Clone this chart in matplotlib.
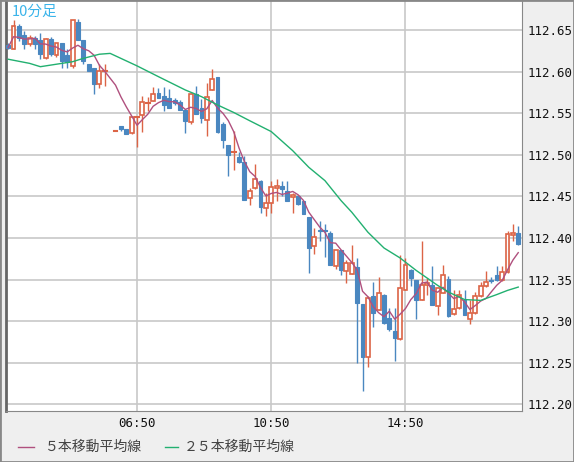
import numpy as np
import matplotlib
matplotlib.use("Agg")
import matplotlib.pyplot as plt
from matplotlib.patches import Rectangle
from matplotlib.lines import Line2D

idx = list(range(0, 19)) + list(range(20, 96))
opens = [112.632,112.627,112.655,112.644,112.633,112.640,112.638,112.616,112.639,112.620,112.634,112.620,112.607,112.660,112.638,112.609,112.604,112.585,112.601,
 112.529,112.535,112.531,112.526,112.545,112.548,112.562,112.565,112.574,112.571,112.568,112.566,112.564,112.554,112.540,112.573,112.556,112.542,112.578,112.594,112.537,
 112.512,112.503,112.498,112.492,112.448,112.460,112.468,112.436,112.442,112.460,112.462,112.457,112.449,112.451,112.445,
 112.425,112.390,112.410,112.409,112.406,112.366,112.385,112.360,112.357,112.365,112.321,112.257,112.330,112.314,112.331,112.304,112.288,112.278,112.338,112.362,
 112.349,112.326,112.344,112.344,112.318,112.334,112.351,112.309,112.316,112.326,112.303,112.310,112.330,112.342,112.350,112.356,112.349,112.359,112.404,112.406]
highs = [112.634,112.662,112.657,112.649,112.644,112.643,112.646,112.640,112.642,112.634,112.634,112.627,112.662,112.663,112.638,112.609,112.604,112.609,112.609,
 112.530,112.535,112.531,112.546,112.547,112.571,112.570,112.582,112.580,112.582,112.579,112.568,112.566,112.555,112.574,112.583,112.567,112.586,112.603,112.594,112.540,
 112.512,112.529,112.504,112.499,112.460,112.489,112.470,112.454,112.469,112.471,112.469,112.469,112.454,112.452,112.445,
 112.425,112.412,112.421,112.417,112.409,112.385,112.385,112.373,112.392,112.376,112.321,112.330,112.347,112.353,112.333,112.316,112.316,112.379,112.376,112.363,
 112.350,112.397,112.352,112.366,112.341,112.368,112.354,112.337,112.337,112.337,112.325,112.335,112.347,112.360,112.353,112.366,112.366,112.408,112.417,112.415]
lows = [112.627,112.627,112.637,112.627,112.631,112.627,112.615,112.615,112.619,112.618,112.604,112.604,112.604,112.638,112.609,112.601,112.573,112.580,112.583,
 112.529,112.529,112.525,112.525,112.510,112.528,112.553,112.565,112.568,112.553,112.556,112.560,112.554,112.526,112.537,112.549,112.538,112.523,112.578,112.526,112.508,
 112.475,112.482,112.490,112.446,112.440,112.459,112.430,112.427,112.430,112.445,112.450,112.445,112.430,112.440,112.429,
 112.358,112.381,112.397,112.377,112.367,112.363,112.355,112.346,112.357,112.250,112.216,112.245,112.293,112.314,112.297,112.288,112.252,112.277,112.337,112.342,
 112.303,112.325,112.331,112.319,112.307,112.334,112.305,112.308,112.315,112.307,112.297,112.309,112.329,112.341,112.346,112.348,112.348,112.358,112.396,112.392]
closes = [112.629,112.655,112.640,112.633,112.640,112.633,112.621,112.639,112.621,112.634,112.613,112.612,112.662,112.638,112.613,112.601,112.585,112.601,112.602,
 112.530,112.531,112.525,112.546,112.546,112.564,112.563,112.573,112.568,112.560,112.556,112.562,112.554,112.541,112.573,112.549,112.544,112.570,112.591,112.527,112.518,
 112.500,112.504,112.492,112.446,112.457,112.471,112.437,112.442,112.461,112.463,112.459,112.445,112.452,112.441,112.429,
 112.388,112.401,112.408,112.408,112.367,112.385,112.361,112.370,112.370,112.322,112.257,112.328,112.310,112.334,112.298,112.290,112.280,112.340,112.368,112.352,
 112.326,112.343,112.346,112.319,112.340,112.356,112.306,112.315,112.331,112.308,112.310,112.330,112.342,112.347,112.348,112.349,112.359,112.405,112.406,112.393]

ma25_idx = [0,4,6,8,12,14,17,19,24,28,33,36,39,42,45,49,53,56,59,62,64,67,70,73,76,80,82,85,88,91,93,95]
ma25_val = [112.615,112.610,112.606,112.608,112.612,112.616,112.621,112.622,112.607,112.594,112.578,112.570,112.560,112.551,112.541,112.528,
 112.505,112.485,112.469,112.445,112.431,112.407,112.388,112.376,112.361,112.343,112.335,112.326,112.325,112.332,112.337,112.341]

tick_idx = [24, 49, 74]
tick_labels = ["06:50", "10:50", "14:50"]
yticks = [112.20, 112.25, 112.30, 112.35, 112.40, 112.45, 112.50, 112.55, 112.60, 112.65]

RED = "#dc6446"; BLUE = "#4a87c0"; PINK = "#b0507e"; GREEN = "#22b070"
JP = ["Noto Sans CJK JP", "DejaVu Sans"]

fig = plt.figure(figsize=(5.74, 4.62), dpi=100, facecolor="#efefef")
ax = fig.add_axes([6/574, 1 - 411/462, 516/574, 410/462])
ax.set_facecolor("white")
ax.set_xlim(-0.4, 95.7)
ax.set_ylim(112.192, 112.685)

for g in yticks:
    ax.axhline(g, color="#c8c8c8", lw=1.2, zorder=0)
for t in tick_idx:
    ax.axvline(t, color="#c8c8c8", lw=1.2, zorder=0)

w = 0.72
for i, o, h, l, c in zip(idx, opens, highs, lows, closes):
    col = RED if c >= o else BLUE
    ax.plot([i, i], [l, h], color=col, lw=1.0, zorder=2, solid_capstyle="butt")
    lo, hi = min(o, c), max(o, c)
    if hi - lo < 0.0015:
        ax.plot([i - w/2, i + w/2], [o, o], color=col, lw=1.5, zorder=3)
    elif c >= o:
        ax.add_patch(Rectangle((i - w/2, lo), w, hi - lo, facecolor="white", edgecolor=col, lw=1.2, zorder=3))
    else:
        ax.add_patch(Rectangle((i - w/2, lo), w, hi - lo, facecolor=col, edgecolor=col, lw=0.8, zorder=3))

cl = np.array(closes)
ma5 = np.array([cl[max(0, k - 4):k + 1].mean() for k in range(len(cl))])
ax.plot(idx, ma5, color=PINK, lw=1.0, zorder=4)
ax.plot(ma25_idx, ma25_val, color=GREEN, lw=1.0, zorder=4)

ax.yaxis.tick_right()
ax.set_yticks(yticks)
ax.set_yticklabels([f"{v:.2f}" for v in yticks], family="DejaVu Sans Mono", fontsize=9)
ax.set_xticks(tick_idx)
ax.set_xticklabels(tick_labels, family="DejaVu Sans Mono", fontsize=9)
ax.tick_params(length=0, pad=4, colors="#111111")
for s in ax.spines.values():
    s.set_color("#888888")
ax.spines["top"].set_visible(False)
ax.spines["left"].set_color("#666666")
ax.spines["left"].set_linewidth(2)

ax.text(0.012, 0.99, "10分足", transform=ax.transAxes, ha="left", va="top",
        color="#3ab4ea", fontsize=10.5, family=JP)

fig.add_artist(Line2D([18/574, 34/574], [1 - 447/462]*2, color=PINK, lw=1))
fig.text(45/574, 1 - 447/462, "５本移動平均線", va="center", fontsize=10, color="#444444", family=JP)
fig.add_artist(Line2D([165/574, 178/574], [1 - 447/462]*2, color=GREEN, lw=1))
fig.text(184/574, 1 - 447/462, "２５本移動平均線", va="center", fontsize=10, color="#444444", family=JP)
fig.add_artist(Rectangle((0, 0), 1, 1, transform=fig.transFigure, fill=False, edgecolor="#888888", lw=2))

fig.savefig("out.png", dpi=100, facecolor=fig.get_facecolor())
